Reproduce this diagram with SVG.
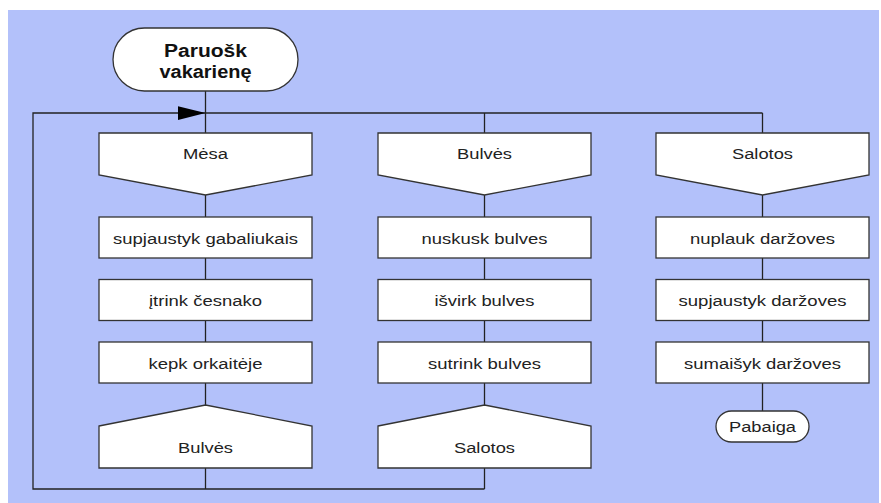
<svg xmlns="http://www.w3.org/2000/svg" width="881" height="503" viewBox="0 0 881 503">
  <style>
    .node { fill: #ffffff; stroke: #333333; stroke-width: 1.3; }
    .wire { fill: none; stroke: #222222; stroke-width: 1.3; }
    .lbl { font-family: "Liberation Sans", Arial, sans-serif; font-size: 15.5px; fill: #222222; text-anchor: middle; }
    .title { font-family: "Liberation Sans", Arial, sans-serif; font-size: 18px; font-weight: bold; fill: #111111; text-anchor: middle; }
  </style>
  <defs>
    <marker id="arrow" markerUnits="userSpaceOnUse" markerWidth="28" markerHeight="14" viewBox="0 0 28 14" refX="28" refY="7" orient="auto">
      <path d="M0,0 L28,7 L0,14 Z" fill="#000000"/>
    </marker>
  </defs>

  <!-- page background -->
  <rect x="0" y="0" width="881" height="503" fill="#ffffff"/>
  <rect x="8" y="10" width="871" height="493" fill="#b3c1fa"/>

  <!-- connectors -->
  <g id="connectors">
    <path class="wire" d="M205.5,91 V113"/>
    <path class="wire" d="M484.5,489 H33 V113 H205.5" marker-end="url(#arrow)"/>
    <path class="wire" d="M205.5,113 H762.5"/>
    <path class="wire" d="M205.5,113 V133"/>
    <path class="wire" d="M484.5,113 V133"/>
    <path class="wire" d="M762.5,113 V133"/>
    <!-- column 1 -->
    <path class="wire" d="M205.5,195 V217"/>
    <path class="wire" d="M205.5,258 V279.5"/>
    <path class="wire" d="M205.5,320.5 V342"/>
    <path class="wire" d="M205.5,383 V405"/>
    <path class="wire" d="M205.5,468 V489"/>
    <!-- column 2 -->
    <path class="wire" d="M484.5,195 V217"/>
    <path class="wire" d="M484.5,258 V279.5"/>
    <path class="wire" d="M484.5,320.5 V342"/>
    <path class="wire" d="M484.5,383 V405"/>
    <path class="wire" d="M484.5,468 V489"/>
    <!-- column 3 -->
    <path class="wire" d="M762.5,195 V217"/>
    <path class="wire" d="M762.5,258 V279.5"/>
    <path class="wire" d="M762.5,320.5 V342"/>
    <path class="wire" d="M762.5,383 V411"/>
  </g>

  <!-- start -->
  <g id="start">
    <rect class="node" x="113" y="28" width="185" height="63" rx="31.5" ry="31.5"/>
    <text class="title" x="205.5" y="56.5" textLength="83" lengthAdjust="spacingAndGlyphs">Paruošk</text>
    <text class="title" x="205.5" y="77.5" textLength="92" lengthAdjust="spacingAndGlyphs">vakarienę</text>
  </g>

  <!-- column 1: meat -->
  <g id="mesa">
    <path class="node" d="M99,133 H312 V175 L205.5,195 L99,175 Z"/>
    <text class="lbl" x="205.5" y="159" textLength="45" lengthAdjust="spacingAndGlyphs">Mėsa</text>
  </g>
  <g id="supjaustyk-gabaliukais">
    <rect class="node" x="99" y="217" width="213" height="41"/>
    <text class="lbl" x="205.5" y="243.5" textLength="185" lengthAdjust="spacingAndGlyphs">supjaustyk gabaliukais</text>
  </g>
  <g id="itrink-cesnako">
    <rect class="node" x="99" y="279.5" width="213" height="41"/>
    <text class="lbl" x="205.5" y="306" textLength="113" lengthAdjust="spacingAndGlyphs">įtrink česnako</text>
  </g>
  <g id="kepk-orkaiteje">
    <rect class="node" x="99" y="342" width="213" height="41"/>
    <text class="lbl" x="205.5" y="368.5" textLength="114" lengthAdjust="spacingAndGlyphs">kepk orkaitėje</text>
  </g>
  <g id="to-bulves">
    <path class="node" d="M99,426 L205.5,405 L312,426 V468 H99 Z"/>
    <text class="lbl" x="205.5" y="452.5" textLength="55" lengthAdjust="spacingAndGlyphs">Bulvės</text>
  </g>

  <!-- column 2: potatoes -->
  <g id="bulves">
    <path class="node" d="M378,133 H591 V175 L484.5,195 L378,175 Z"/>
    <text class="lbl" x="484.5" y="159" textLength="55" lengthAdjust="spacingAndGlyphs">Bulvės</text>
  </g>
  <g id="nuskusk-bulves">
    <rect class="node" x="378" y="217" width="213" height="41"/>
    <text class="lbl" x="484.5" y="243.5" textLength="126" lengthAdjust="spacingAndGlyphs">nuskusk bulves</text>
  </g>
  <g id="isvirk-bulves">
    <rect class="node" x="378" y="279.5" width="213" height="41"/>
    <text class="lbl" x="484.5" y="306" textLength="100" lengthAdjust="spacingAndGlyphs">išvirk bulves</text>
  </g>
  <g id="sutrink-bulves">
    <rect class="node" x="378" y="342" width="213" height="41"/>
    <text class="lbl" x="484.5" y="368.5" textLength="113" lengthAdjust="spacingAndGlyphs">sutrink bulves</text>
  </g>
  <g id="to-salotos">
    <path class="node" d="M378,426 L484.5,405 L591,426 V468 H378 Z"/>
    <text class="lbl" x="484.5" y="452.5" textLength="61" lengthAdjust="spacingAndGlyphs">Salotos</text>
  </g>

  <!-- column 3: salad -->
  <g id="salotos">
    <path class="node" d="M656,133 H869 V175 L762.5,195 L656,175 Z"/>
    <text class="lbl" x="762.5" y="159" textLength="61" lengthAdjust="spacingAndGlyphs">Salotos</text>
  </g>
  <g id="nuplauk-darzoves">
    <rect class="node" x="656" y="217" width="213" height="41"/>
    <text class="lbl" x="762.5" y="243.5" textLength="145" lengthAdjust="spacingAndGlyphs">nuplauk daržoves</text>
  </g>
  <g id="supjaustyk-darzoves">
    <rect class="node" x="656" y="279.5" width="213" height="41"/>
    <text class="lbl" x="762.5" y="306" textLength="168" lengthAdjust="spacingAndGlyphs">supjaustyk daržoves</text>
  </g>
  <g id="sumaisyk-darzoves">
    <rect class="node" x="656" y="342" width="213" height="41"/>
    <text class="lbl" x="762.5" y="368.5" textLength="157" lengthAdjust="spacingAndGlyphs">sumaišyk daržoves</text>
  </g>
  <g id="pabaiga">
    <rect class="node" x="716" y="411" width="93" height="31" rx="15.5" ry="15.5"/>
    <text class="lbl" x="762.5" y="432" textLength="67" lengthAdjust="spacingAndGlyphs">Pabaiga</text>
  </g>
</svg>
